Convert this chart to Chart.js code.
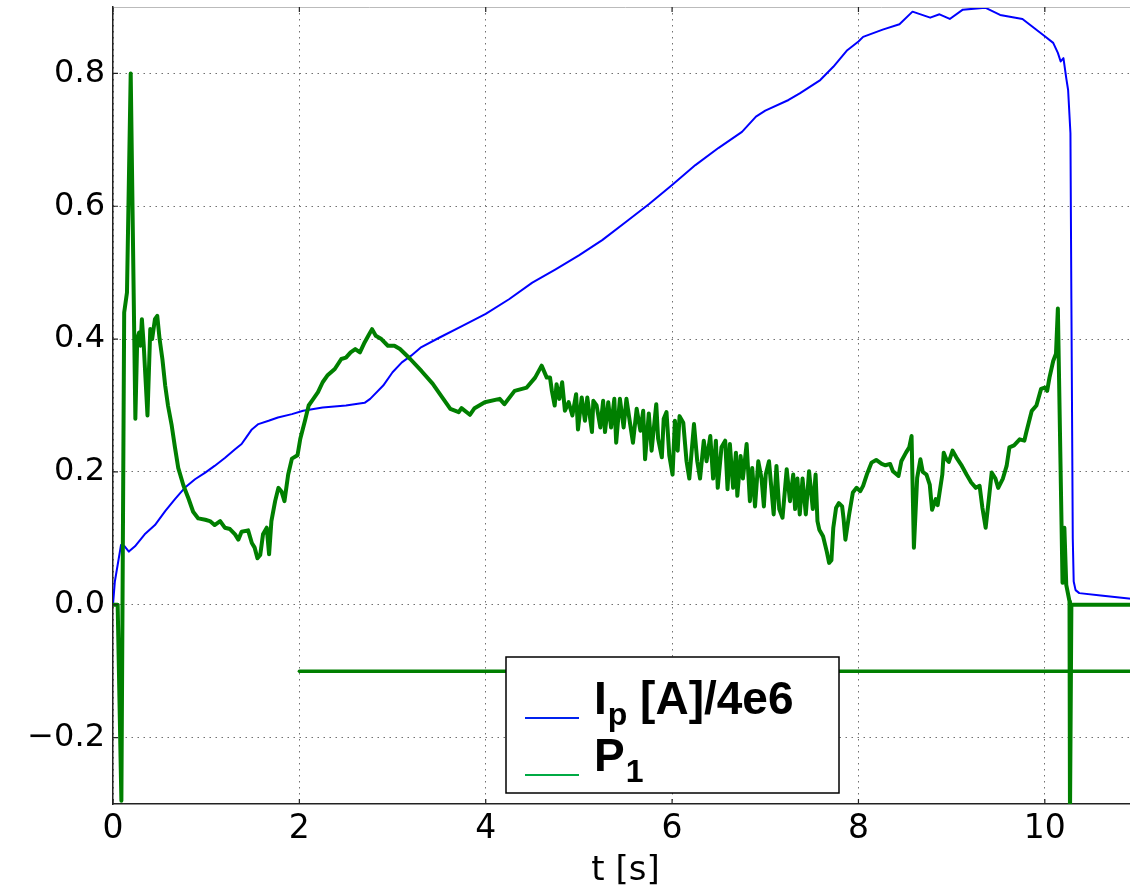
<!DOCTYPE html>
<html>
<head>
<meta charset="utf-8">
<script src="https://cdn.jsdelivr.net/npm/chart.js@4"></script>
<style>
  html, body { margin: 0; padding: 0; background: #fff; overflow: hidden; }
  #wrap { width: 1150px; height: 892px; }
</style>
</head>
<body>
<div id="wrap"><canvas id="plasma-chart" width="1150" height="892"></canvas></div>
<script>
// plasma current (normalised) vs time
const ipT = [0, 0.02, 0.086, 0.125, 0.17, 0.236, 0.34, 0.45, 0.56, 0.665, 0.77, 0.88, 0.99, 1.09, 1.2, 1.31, 1.38, 1.43, 1.49, 1.56, 1.67, 1.77, 1.92, 2.04, 2.25, 2.5, 2.7, 2.76, 2.9, 3.0, 3.1, 3.2, 3.3, 3.5, 3.75, 4.0, 4.25, 4.5, 4.75, 5.0, 5.25, 5.5, 5.75, 6.0, 6.25, 6.5, 6.75, 6.9, 7.0, 7.25, 7.37, 7.59, 7.73, 7.88, 8.0, 8.05, 8.26, 8.44, 8.58, 8.77, 8.87, 8.98, 9.12, 9.36, 9.52, 9.76, 10.0, 10.09, 10.14, 10.17, 10.2, 10.23, 10.25, 10.275, 10.285, 10.3, 10.31, 10.33, 10.37, 10.6, 11];
const ipV = [0, 0.035, 0.09, 0.088, 0.08, 0.088, 0.106, 0.12, 0.141, 0.159, 0.176, 0.189, 0.199, 0.209, 0.221, 0.234, 0.242, 0.252, 0.264, 0.272, 0.277, 0.282, 0.287, 0.292, 0.297, 0.3, 0.304, 0.31, 0.33, 0.35, 0.365, 0.375, 0.387, 0.402, 0.42, 0.438, 0.46, 0.485, 0.505, 0.526, 0.549, 0.576, 0.603, 0.632, 0.662, 0.688, 0.712, 0.735, 0.744, 0.76, 0.77, 0.79, 0.81, 0.835, 0.848, 0.855, 0.866, 0.874, 0.893, 0.884, 0.889, 0.882, 0.896, 0.899, 0.888, 0.882, 0.856, 0.846, 0.831, 0.818, 0.823, 0.793, 0.775, 0.71, 0.46, 0.1, 0.035, 0.022, 0.0175, 0.014, 0.008];

// P1 signal vs time
const p1T = [0, 0.05, 0.09, 0.12, 0.15, 0.19, 0.24, 0.26, 0.28, 0.295, 0.31, 0.33, 0.37, 0.4, 0.42, 0.45, 0.475, 0.5, 0.53, 0.56, 0.59, 0.63, 0.665, 0.7, 0.755, 0.81, 0.86, 0.915, 0.99, 1.04, 1.09, 1.15, 1.2, 1.255, 1.31, 1.345, 1.38, 1.45, 1.49, 1.52, 1.55, 1.58, 1.61, 1.65, 1.675, 1.7, 1.74, 1.775, 1.81, 1.84, 1.88, 1.92, 1.98, 2.01, 2.06, 2.1, 2.15, 2.2, 2.25, 2.3, 2.38, 2.45, 2.5, 2.55, 2.6, 2.65, 2.7, 2.74, 2.78, 2.82, 2.88, 2.95, 3.02, 3.08, 3.19, 3.31, 3.43, 3.52, 3.62, 3.71, 3.74, 3.83, 3.88, 3.99, 4.15, 4.2, 4.31, 4.44, 4.53, 4.6, 4.655, 4.69, 4.71, 4.74, 4.76, 4.79, 4.82, 4.85, 4.89, 4.93, 4.97, 4.99, 5.03, 5.065, 5.09, 5.14, 5.155, 5.19, 5.23, 5.26, 5.28, 5.315, 5.345, 5.38, 5.4, 5.44, 5.48, 5.51, 5.55, 5.58, 5.62, 5.66, 5.69, 5.71, 5.75, 5.78, 5.83, 5.85, 5.89, 5.91, 5.94, 5.97, 6.005, 6.03, 6.06, 6.08, 6.12, 6.155, 6.185, 6.235, 6.27, 6.3, 6.34, 6.37, 6.41, 6.44, 6.47, 6.49, 6.53, 6.57, 6.595, 6.62, 6.655, 6.685, 6.7, 6.735, 6.76, 6.8, 6.835, 6.86, 6.89, 6.925, 6.96, 6.985, 7.005, 7.04, 7.065, 7.09, 7.12, 7.15, 7.185, 7.23, 7.265, 7.3, 7.32, 7.345, 7.37, 7.4, 7.435, 7.47, 7.51, 7.54, 7.56, 7.58, 7.62, 7.66, 7.685, 7.71, 7.73, 7.76, 7.79, 7.825, 7.84, 7.86, 7.9, 7.94, 7.98, 8.02, 8.05, 8.09, 8.14, 8.19, 8.25, 8.29, 8.34, 8.37, 8.43, 8.46, 8.51, 8.545, 8.57, 8.595, 8.63, 8.665, 8.69, 8.73, 8.765, 8.79, 8.83, 8.85, 8.9, 8.915, 8.94, 8.97, 9.01, 9.05, 9.11, 9.16, 9.21, 9.26, 9.3, 9.33, 9.365, 9.4, 9.43, 9.47, 9.5, 9.55, 9.59, 9.62, 9.67, 9.73, 9.78, 9.8, 9.86, 9.91, 9.96, 10.0, 10.025, 10.05, 10.09, 10.12, 10.14, 10.19, 10.21, 10.23, 10.265, 10.27, 10.285, 11];
const p1V = [0, 0, -0.295, 0.44, 0.47, 0.8, 0.28, 0.4, 0.41, 0.39, 0.43, 0.39, 0.285, 0.415, 0.4, 0.43, 0.435, 0.4, 0.37, 0.33, 0.3, 0.27, 0.237, 0.206, 0.18, 0.16, 0.14, 0.13, 0.128, 0.126, 0.12, 0.126, 0.116, 0.114, 0.106, 0.098, 0.11, 0.112, 0.093, 0.086, 0.07, 0.075, 0.106, 0.116, 0.076, 0.126, 0.156, 0.176, 0.17, 0.156, 0.196, 0.22, 0.225, 0.25, 0.277, 0.3, 0.31, 0.32, 0.335, 0.345, 0.355, 0.37, 0.372, 0.38, 0.385, 0.38, 0.395, 0.405, 0.415, 0.405, 0.4, 0.39, 0.39, 0.385, 0.37, 0.352, 0.333, 0.315, 0.295, 0.29, 0.296, 0.286, 0.296, 0.305, 0.31, 0.302, 0.322, 0.327, 0.342, 0.36, 0.342, 0.342, 0.322, 0.3, 0.332, 0.31, 0.335, 0.292, 0.305, 0.285, 0.317, 0.264, 0.312, 0.277, 0.312, 0.26, 0.307, 0.3, 0.267, 0.307, 0.26, 0.305, 0.267, 0.31, 0.244, 0.31, 0.267, 0.31, 0.272, 0.244, 0.295, 0.262, 0.292, 0.219, 0.288, 0.232, 0.302, 0.25, 0.222, 0.28, 0.29, 0.225, 0.196, 0.277, 0.232, 0.284, 0.274, 0.216, 0.19, 0.272, 0.216, 0.19, 0.247, 0.216, 0.254, 0.19, 0.247, 0.176, 0.237, 0.247, 0.174, 0.242, 0.176, 0.229, 0.164, 0.224, 0.19, 0.242, 0.156, 0.206, 0.148, 0.216, 0.19, 0.148, 0.196, 0.216, 0.176, 0.136, 0.209, 0.144, 0.131, 0.204, 0.156, 0.196, 0.144, 0.19, 0.136, 0.19, 0.136, 0.201, 0.144, 0.196, 0.126, 0.113, 0.103, 0.08, 0.063, 0.067, 0.116, 0.146, 0.153, 0.148, 0.13, 0.098, 0.136, 0.169, 0.176, 0.171, 0.179, 0.196, 0.214, 0.218, 0.212, 0.21, 0.212, 0.201, 0.194, 0.216, 0.229, 0.237, 0.254, 0.086, 0.191, 0.219, 0.2, 0.196, 0.181, 0.143, 0.159, 0.15, 0.196, 0.229, 0.22, 0.215, 0.232, 0.222, 0.209, 0.196, 0.184, 0.176, 0.179, 0.146, 0.116, 0.16, 0.199, 0.19, 0.176, 0.19, 0.209, 0.237, 0.24, 0.249, 0.247, 0.259, 0.292, 0.3, 0.325, 0.327, 0.322, 0.342, 0.367, 0.378, 0.446, 0.033, 0.116, 0.03, 0.005, -0.32, 0, 0];

// flat P1 reference level
const refT = [2, 11];
const refV = [-0.1, -0.1];

const xTicks = [0, 2, 4, 6, 8, 10];
const yTicks = [-0.2, 0, 0.2, 0.4, 0.6, 0.8];

const toPoints = (ts, vs) => ts.map((t, i) => ({ x: t, y: vs[i] }));

// inner tick marks + top spine, matplotlib style
const frame = {
    id: "frame",
    afterDatasetsDraw: (chart) => {
        const { ctx, chartArea, scales } = chart;
        ctx.save();
        ctx.strokeStyle = "#bbbbbb";
        ctx.lineWidth = 1;
        ctx.beginPath();
        ctx.moveTo(chartArea.left, chartArea.top + 0.5);
        ctx.lineTo(chartArea.right, chartArea.top + 0.5);
        ctx.stroke();

        ctx.strokeStyle = "#222222";
        ctx.lineWidth = 1.2;
        ctx.beginPath();
        yTicks.forEach((v) => {
            const y = scales.y.getPixelForValue(v);
            ctx.moveTo(chartArea.left, y);
            ctx.lineTo(chartArea.left + 5, y);
        });
        xTicks.forEach((v) => {
            const x = scales.x.getPixelForValue(v);
            ctx.moveTo(x, chartArea.bottom);
            ctx.lineTo(x, chartArea.bottom - 5);
            ctx.moveTo(x, chartArea.top);
            ctx.lineTo(x, chartArea.top + 5);
        });
        ctx.stroke();
        ctx.restore();
    },
};

// legend with subscripts (Chart.js legend can't do these)
const subLegend = {
    id: "subLegend",
    afterDraw: (chart) => {
        const { ctx } = chart;
        const box = { x: 506, y: 657, w: 333, h: 136 };
        ctx.save();
        ctx.fillStyle = "#ffffff";
        ctx.fillRect(box.x, box.y, box.w, box.h);
        ctx.strokeStyle = "#000000";
        ctx.lineWidth = 1.5;
        ctx.strokeRect(box.x, box.y, box.w, box.h);

        const rows = [
            { color: "#0022ee", main: "I", sub: "p", rest: " [A]/4e6", y: 714 },
            { color: "#00aa44", main: "P", sub: "1", rest: "", y: 771 },
        ];
        rows.forEach((r) => {
            ctx.strokeStyle = r.color;
            ctx.lineWidth = 2;
            ctx.beginPath();
            ctx.moveTo(box.x + 19, r.y + 4);
            ctx.lineTo(box.x + 73, r.y + 4);
            ctx.stroke();

            ctx.fillStyle = "#000000";
            ctx.textBaseline = "alphabetic";
            ctx.font = 'bold 46px "Liberation Sans", Arial, sans-serif';
            let x = box.x + 88;
            ctx.fillText(r.main, x, r.y);
            x += ctx.measureText(r.main).width;
            ctx.font = 'bold 32px "Liberation Sans", Arial, sans-serif';
            ctx.fillText(r.sub, x + 1, r.y + 11);
            x += ctx.measureText(r.sub).width + 1;
            ctx.font = 'bold 46px "Liberation Sans", Arial, sans-serif';
            ctx.fillText(r.rest, x, r.y);
        });
        ctx.restore();
    },
};

document.addEventListener("DOMContentLoaded", () => {
    const ctx = document.getElementById("plasma-chart").getContext("2d");

    new Chart(ctx, {
        type: "line",
        data: {
            datasets: [
                {
                    label: "P1",
                    data: toPoints(p1T, p1V),
                    borderColor: "#007f00",
                    borderWidth: 4,
                },
                {
                    label: "P1 ref",
                    data: toPoints(refT, refV),
                    borderColor: "#007f00",
                    borderWidth: 3.5,
                },
                {
                    label: "Ip [A]/4e6",
                    data: toPoints(ipT, ipV),
                    borderColor: "#0000ff",
                    borderWidth: 2,
                },
            ],
        },
        options: {
            responsive: false,
            animation: false,
            elements: {
                point: { radius: 0, hoverRadius: 0 },
                line: { tension: 0, borderJoinStyle: "round", borderCapStyle: "round" },
            },
            layout: {
                padding: { top: 7, right: 12, left: 0, bottom: 0 },
            },
            plugins: {
                legend: { display: false },
                tooltip: { enabled: false },
            },
            scales: {
                x: {
                    type: "linear",
                    min: 0,
                    max: 11,
                    afterBuildTicks: (scale) => {
                        scale.ticks = xTicks.map((v) => ({ value: v }));
                    },
                    afterFit: (scale) => {
                        scale.height = 88;
                        scale.paddingLeft = 0;
                        scale.paddingRight = 0;
                    },
                    grid: { color: "#707070", lineWidth: 1, drawTicks: false },
                    border: { color: "#222222", width: 1.5, dash: [1.5, 4.5] },
                    ticks: {
                        color: "#000000",
                        padding: 6,
                        maxRotation: 0,
                        font: { family: "DejaVu Sans", size: 33 },
                        callback: (v) => String(v),
                    },
                    title: {
                        display: true,
                        text: "t [s]",
                        color: "#000000",
                        padding: 0,
                        font: { family: "DejaVu Sans", size: 34 },
                    },
                },
                y: {
                    type: "linear",
                    min: -0.3,
                    max: 0.9,
                    afterBuildTicks: (scale) => {
                        scale.ticks = yTicks.map((v) => ({ value: v }));
                    },
                    afterFit: (scale) => {
                        scale.width = 113;
                        scale.paddingTop = 0;
                        scale.paddingBottom = 0;
                    },
                    grid: { color: "#707070", lineWidth: 1, drawTicks: false },
                    border: { color: "#222222", width: 1.5, dash: [1.5, 4.5] },
                    ticks: {
                        color: "#000000",
                        padding: 8,
                        font: { family: "DejaVu Sans", size: 32 },
                        callback: (v) => (v < 0 ? "\u2212" : "") + Math.abs(v).toFixed(1),
                    },
                },
            },
        },
        plugins: [frame, subLegend],
    });
});
</script>
</body>
</html>
